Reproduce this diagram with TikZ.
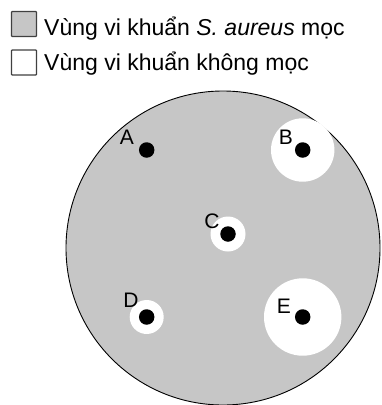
\documentclass[tikz,border=0pt]{standalone}
\usepackage{fontspec}
\setmainfont{Liberation Sans}
\definecolor{agar}{HTML}{C6C6C6}
\begin{document}
\begin{tikzpicture}[x=1pt,y=-1pt,
  legbox/.style={draw=black!75,line width=1.2pt,minimum width=25pt,minimum height=25pt,inner sep=0pt,rounded corners=0.8pt},
  legtext/.style={anchor=base west,inner sep=0pt,font=\fontsize{23}{26}\selectfont},
  zone/.style={fill=white,draw=none},
  disc/.style={circle,fill=black,minimum size=15.5pt,inner sep=0pt},
  lab/.style={inner sep=0pt,font=\fontsize{21}{24}\selectfont}]
\useasboundingbox (0,0) rectangle (382,405);
% legend
\node[legbox,fill=agar] (k1) at (24,24) {};
\node[legbox,fill=white] (k2) at (24,62.5) {};
\node[legtext] (t1) at (44,35.5) {Vùng vi khuẩn \textit{S. aureus} mọc};
\node[legtext] (t2) at (44,70.5) {Vùng vi khuẩn không mọc};
% plate
\draw[fill=agar,line width=0.9pt] (223,248) circle (157);
% inhibition zones
\fill[zone] (302.7,150) circle (31.7);
\fill[zone] (228,234) circle (17.5);
\fill[zone] (146.7,317) circle (17);
\fill[zone] (302.7,317) circle (38.7);
% discs
\node[disc] (A) at (146.7,150) {};
\node[disc] (B) at (302.7,150) {};
\node[disc] (C) at (228,234) {};
\node[disc] (D) at (146.7,317) {};
\node[disc] (E) at (302.7,317) {};
% labels
\node[lab] (lA) at (127,137.5) {A};
\node[lab] (lB) at (286,137.5) {B};
\node[lab] (lC) at (212,221) {C};
\node[lab] (lD) at (131,300.5) {D};
\node[lab] (lE) at (284,306) {E};
\end{tikzpicture}
\end{document}
